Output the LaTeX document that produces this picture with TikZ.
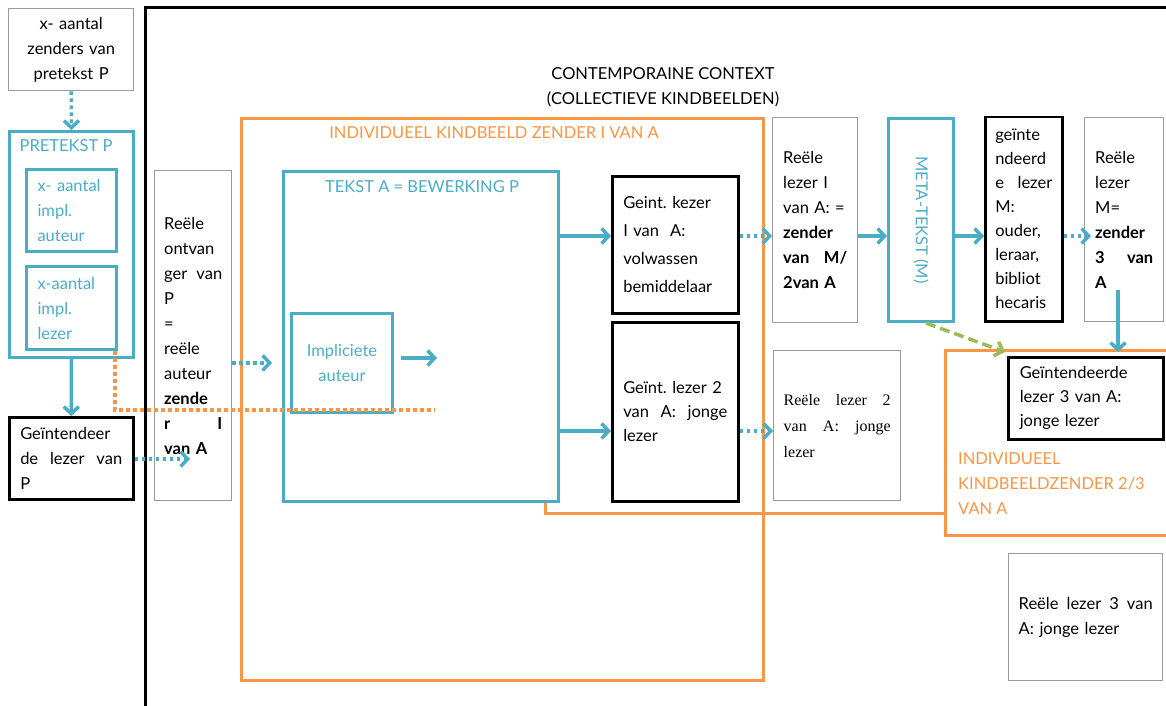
\documentclass[tikz,border=0pt]{standalone}
\usepackage{fontspec}
\setmainfont{Lato}
\newfontfamily\serifA{Liberation Serif}
\usetikzlibrary{arrows.meta}
\definecolor{aqua}{HTML}{4BACC6}
\definecolor{orng}{HTML}{F79646}
\definecolor{grn}{HTML}{9BBB59}
\definecolor{gline}{HTML}{9A9A9A}
\newcommand\fsz{\fontsize{16.5}{25}\selectfont}
\tikzset{
  base/.style={inner sep=0pt, font=\fsz, align=left, anchor=north west},
  gbox/.style={base, draw=gline, line width=1.4pt},
  kbox/.style={base, draw=black, line width=2.5pt},
  abox/.style={base, draw=aqua, line width=3pt, text=aqua},
  obox/.style={base, draw=orng, line width=3pt},
  oline/.style={draw=orng, line width=3pt},
  odot/.style={draw=orng, line width=3.5pt, dash pattern=on 3.5pt off 3.5pt},
  arr/.style={draw=aqua, line width=3.5pt, -{Straight Barb[length=7pt,width=15pt]}},
  darr/.style={arr, dash pattern=on 3.5pt off 3.5pt},
  garr/.style={draw=grn, line width=3.5pt, dash pattern=on 10pt off 5pt, -{Straight Barb[length=7pt,width=15pt]}},
  ttl/.style={inner sep=0pt, font=\fsz},
}
\begin{document}
\begin{tikzpicture}[x=1pt,y=-1pt]
\useasboundingbox (0,0) rectangle (1166,706);
% big context frame
\coordinate (frBL) at (145,706);
\coordinate (frTR) at (1166,8);
\draw[line width=3pt] (frBL) |- (frTR);
\node[ttl, align=center] (ctx) at (663,87) {CONTEMPORAINE CONTEXT\\(COLLECTIEVE KINDBEELDEN)};

% left column
\node[gbox, minimum width=125pt, minimum height=82pt, text width=110pt, align=center] (zend) at (8,8) {x- aantal\\zenders van\\pretekst P};
\node[abox, minimum width=124pt, minimum height=226pt] (pretekst) at (8,130) {};
\node[ttl, text=aqua] (ptitle) at (66,146) {PRETEKST P};
\node[abox, minimum width=90pt, minimum height=82pt, text width=68pt] (implA) at (25,168) {x- aantal\\impl.\\auteur};
\node[abox, minimum width=90pt, minimum height=83pt, text width=68pt] (implL) at (25,265) {x-aantal\\impl.\\lezer};
\node[kbox, minimum width=124pt, minimum height=82pt, text width=102pt] (gintP) at (8,416) {Geïntendeer\\de\hfill lezer\hfill van\\P};

% receiver of P
\node[gbox, minimum width=77pt, minimum height=330pt, text width=58pt] (ontv) at (154,170) {Reële\\ontvan\\ger\hfill van\\P\\=\\reële\\auteur\\\textbf{zende}\\\textbf{r\hfill I}\\\textbf{van A}};

% individual child image 1
\node[obox, minimum width=522pt, minimum height=562pt] (indiv1) at (240,117) {};
\node[ttl, text=orng] (i1title) at (494,133) {INDIVIDUEEL KINDBEELD ZENDER I VAN A};
\node[abox, minimum width=275pt, minimum height=330pt] (tekstA) at (282,170) {};
\node[ttl, text=aqua] (ttitle) at (422,187) {TEKST A = BEWERKING P};
\node[abox, minimum width=101pt, minimum height=99pt, text width=84pt, align=center] (impl) at (290,312) {Impliciete\\auteur};

\node[kbox, minimum width=126pt, minimum height=137pt, text width=104pt, font=\fontsize{16.5}{28}\selectfont] (g1) at (611,175) {Geint.\ kezer\\I van~ A:\\volwassen\\bemiddelaar};
\node[kbox, minimum width=126pt, minimum height=179pt, text width=104pt, font=\fontsize{16.5}{24}\selectfont] (g2) at (611,321) {Geïnt.\ lezer 2\\van\hfill A:\hfill jonge\\lezer};

% right part
\node[gbox, minimum width=85pt, minimum height=205pt, text width=64pt] (rl1) at (772,117) {Reële\\lezer I\\van A: =\\\textbf{zender}\\\textbf{van\hfill M/}\\\textbf{2van A}};
\node[abox, minimum width=65pt, minimum height=203pt] (meta) at (887,117) {};
\node[ttl, text=aqua, rotate=-90] (mtext) at (meta.center) {META-TEKST (M)};
\node[kbox, minimum width=77pt, minimum height=204pt, text width=57pt, font=\fontsize{16.5}{24}\selectfont] (glM) at (984,116) {geïnte\\ndeerd\\e\hfill lezer\\M:\\ouder,\\leraar,\\bibliot\\hecaris};
\node[gbox, minimum width=79pt, minimum height=204pt, text width=58pt] (rlM) at (1084,117) {Reële\\lezer\\M=\\\textbf{zender}\\\textbf{3\hfill van}\\\textbf{A}};

\node[gbox, minimum width=127pt, minimum height=150pt, text width=107pt, font=\serifA\fontsize{16}{26}\selectfont] (rl2) at (773,350) {Reële\hfill lezer\hfill 2\\van\hfill A:\hfill jonge\\lezer};

% individual child image 2/3
\coordinate (i2TR) at (1166,350);
\coordinate (i2BL) at (945,535);
\coordinate (i2BR) at (1166,535);
\draw[oline] (i2TR) -| (i2BL) -- (i2BR);
\node[ttl, text=orng, anchor=west, align=left] (i2title) at (958,484) {INDIVIDUEEL\\KINDBEELDZENDER 2/3\\VAN A};
\node[kbox, minimum width=155pt, minimum height=82pt, text width=132pt, font=\fontsize{16.5}{24}\selectfont] (gl3) at (1007,356) {Geïntendeerde\\lezer 3 van A:\\jonge lezer};
\node[gbox, minimum width=154pt, minimum height=127pt, text width=134pt] (rl3) at (1008,553) {Reële\hfill lezer\hfill 3\hfill van\\A: jonge lezer};

% connectors
\coordinate (yA) at (0,236);
\coordinate (yB) at (0,431);
\draw[darr] (zend.south) -- (pretekst.north);
\draw[arr] (pretekst.south) -- (gintP.north);
\coordinate (ontvT) at (190,459);
\draw[darr] (gintP.east |- ontvT) -- (ontvT);
\draw[darr] (ontv.east |- impl.west) -- ([xshift=-18pt]impl.west);
\draw[arr] ([xshift=7pt,yshift=5pt]impl.east) -- ++(36,0);
\draw[arr] (tekstA.east |- yA) -- (g1.west |- yA);
\draw[arr] (tekstA.east |- yB) -- (g2.west |- yB);
\draw[darr] (g1.east |- yA) -- (rl1.west |- yA);
\draw[darr] (g2.east |- yB) -- (rl2.west |- yB);
\draw[arr] (rl1.east |- yA) -- (meta.west |- yA);
\draw[arr] (meta.east |- yA) -- (glM.west |- yA);
\coordinate (kend) at (1091,236);
\draw[darr] (glM.east |- yA) -- (kend);
\coordinate (mS) at (1118,290);
\draw[arr] (mS) -- ([yshift=4pt]mS |- gl3.north);
\draw[garr] ([xshift=5pt]meta.south) -- ([xshift=-2pt,yshift=4pt]gl3.north west);
\coordinate (oEnd) at (435,410);
\draw[odot] ([xshift=-3pt]implL.south east) |- (oEnd);
\coordinate (i2W) at (945,513);
\draw[oline] ([xshift=-15pt]tekstA.south east) |- (i2W);
\end{tikzpicture}
\end{document}
